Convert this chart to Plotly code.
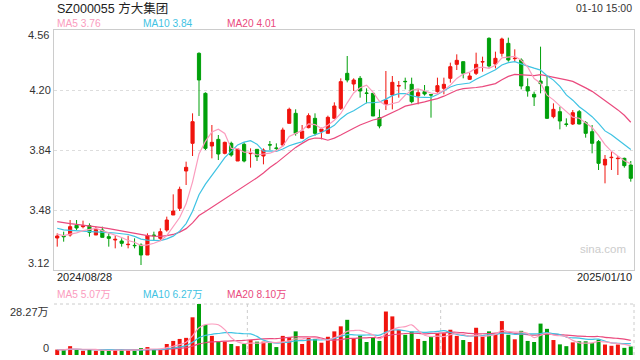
import plotly.graph_objects as go
import pandas as pd

# ---------------- data ----------------
title_text = "SZ000055 方大集团"
stamp_text = "01-10 15:00"
first_date = "2024/08/28"
last_date = "2025/01/10"

opens = [3.312, 3.325, 3.33, 3.388, 3.38, 3.386, 3.33, 3.36, 3.32, 3.30,
         3.294, 3.272, 3.268, 3.27, 3.21, 3.33, 3.31, 3.36, 3.45, 3.49,
         3.714, 3.88, 4.42, 4.18, 3.864, 3.904, 3.82, 3.88, 3.774, 3.874,
         3.818, 3.844, 3.804, 3.872, 3.852, 3.87, 4.0, 4.06, 3.91, 3.974,
         4.03, 3.95, 3.94, 4.03, 4.09, 4.30, 4.236, 4.27, 4.182, 4.18,
         4.034, 4.114, 4.17, 4.224, 4.252, 4.234, 4.164, 4.19, 4.172, 4.19,
         4.21, 4.27, 4.354, 4.37, 4.264, 4.30, 4.368, 4.51, 4.356, 4.42,
         4.48, 4.388, 4.38, 4.22, 4.174, 4.254, 4.22, 4.04, 4.07, 3.996,
         3.996, 4.07, 4.004, 3.95, 3.89, 3.75, 3.794, 3.788, 3.79, 3.75]
highs = [3.34, 3.35, 3.42, 3.42, 3.416, 3.40, 3.38, 3.38, 3.34, 3.326,
         3.31, 3.326, 3.31, 3.28, 3.34, 3.35, 3.37, 3.44, 3.574, 3.62,
         3.77, 4.06, 4.426, 4.186, 3.99, 3.93, 3.89, 3.89, 3.85, 3.886,
         3.85, 3.846, 3.85, 3.894, 3.88, 3.974, 4.094, 4.084, 3.99, 4.06,
         4.06, 3.974, 4.046, 4.126, 4.27, 4.404, 4.27, 4.284, 4.21, 4.18,
         4.084, 4.314, 4.284, 4.254, 4.274, 4.274, 4.204, 4.23, 4.174, 4.274,
         4.274, 4.364, 4.414, 4.37, 4.304, 4.424, 4.40, 4.516, 4.43, 4.514,
         4.514, 4.444, 4.39, 4.27, 4.19, 4.46, 4.284, 4.12, 4.10, 4.03,
         4.08, 4.08, 4.014, 3.99, 3.90, 3.81, 3.83, 3.804, 3.794, 3.774]
lows = [3.26, 3.29, 3.32, 3.36, 3.37, 3.32, 3.33, 3.316, 3.26, 3.25,
        3.26, 3.25, 3.25, 3.15, 3.21, 3.30, 3.30, 3.35, 3.45, 3.474,
        3.63, 3.804, 4.044, 3.84, 3.79, 3.78, 3.814, 3.80, 3.774, 3.766,
        3.734, 3.774, 3.754, 3.84, 3.834, 3.86, 4.0, 3.926, 3.91, 3.97,
        3.926, 3.904, 3.94, 4.03, 4.08, 4.246, 4.194, 4.154, 4.12, 4.044,
        3.97, 4.08, 4.084, 4.154, 4.204, 4.12, 4.114, 4.166, 4.034, 4.184,
        4.174, 4.244, 4.32, 4.27, 4.26, 4.29, 4.31, 4.334, 4.33, 4.40,
        4.37, 4.37, 4.204, 4.16, 4.104, 4.18, 4.026, 4.03, 3.964, 3.98,
        3.99, 3.994, 3.914, 3.82, 3.72, 3.64, 3.72, 3.69, 3.734, 3.65]
closes = [3.324, 3.32, 3.38, 3.372, 3.385, 3.346, 3.364, 3.316, 3.31, 3.304,
          3.28, 3.274, 3.266, 3.21, 3.326, 3.326, 3.35, 3.42, 3.474, 3.604,
          3.736, 4.01, 4.26, 3.85, 3.886, 3.816, 3.886, 3.81, 3.846, 3.774,
          3.82, 3.80, 3.84, 3.87, 3.85, 3.96, 4.084, 3.94, 3.954, 4.046,
          3.94, 3.966, 4.036, 4.104, 4.25, 4.26, 4.26, 4.194, 4.18, 4.044,
          3.984, 4.14, 4.246, 4.226, 4.25, 4.13, 4.184, 4.176, 4.17, 4.226,
          4.234, 4.34, 4.378, 4.30, 4.284, 4.354, 4.37, 4.344, 4.39, 4.506,
          4.38, 4.39, 4.224, 4.194, 4.158, 4.238, 4.03, 4.084, 4.014, 3.994,
          4.064, 3.996, 3.94, 3.88, 3.76, 3.784, 3.796, 3.79, 3.746, 3.67]
# volume in 万 (10k) shares
volumes = [3.0, 2.7, 4.9, 3.0, 2.3, 3.0, 2.3, 2.7, 2.7, 2.7,
           2.7, 2.7, 2.7, 3.8, 4.4, 3.0, 3.0, 6.1, 7.8, 8.9,
           9.5, 20.9, 28.27, 16.7, 10.6, 7.4, 7.4, 6.1, 4.9, 6.1,
           8.3, 7.4, 7.4, 6.6, 4.4, 10.6, 9.9, 13.1, 6.1, 9.5,
           8.9, 6.8, 10.1, 13.1, 15.9, 19.5, 9.1, 10.8, 7.2, 9.5,
           7.8, 24.1, 21.4, 13.9, 11.2, 13.1, 8.9, 7.8, 10.2, 12.1,
           12.1, 14.0, 10.6, 8.3, 7.2, 15.1, 10.2, 13.1, 11.4, 18.8,
           11.2, 8.7, 13.4, 7.8, 7.2, 17.4, 14.5, 8.3, 5.9, 4.9,
           7.0, 7.6, 7.6, 6.6, 8.55, 5.8, 5.1, 5.8, 3.95, 4.7]
# closes / volumes before the window, estimated so the MA lines start where the picture shows
prior_closes = [3.48, 3.47, 3.46, 3.47, 3.45, 3.44, 3.45, 3.43, 3.44, 3.42,
                3.42, 3.41, 3.40, 3.41, 3.39, 3.36, 3.34, 3.33, 3.32]
prior_volumes = [3.4, 3.2, 3.1, 3.3, 3.0, 3.2, 3.1, 2.9, 3.0, 3.1,
                 3.0, 2.9, 3.0, 3.1, 2.8, 2.9, 3.0, 2.8, 2.9]

price_ticks = [3.48, 3.84, 4.20]
price_min, price_max = 3.12, 4.56
vol_max = 28.27

# trading dates (China A-share calendar)
holidays = pd.to_datetime(["2024-09-16", "2024-09-17", "2024-10-01", "2024-10-02",
                           "2024-10-03", "2024-10-04", "2024-10-07", "2025-01-01"])
dates = [d for d in pd.bdate_range("2024-08-28", "2025-01-10") if d not in holidays]

# ---------------- styles ----------------
RED = "#f0140e"
GREEN = "#00a00a"
MA5C, MA10C, MA20C = "#fb9cbe", "#3fc3e3", "#ea4a7e"
FONT = "Liberation Sans, Arial, Noto Sans CJK SC, sans-serif"

n = len(closes)
xs = list(range(n))


def ma(values, prior, w):
    s = pd.Series(prior + values).rolling(w, min_periods=1).mean()
    return s.iloc[len(prior):].tolist()


ma5, ma10, ma20 = (ma(closes, prior_closes, w) for w in (5, 10, 20))
vma5, vma10, vma20 = (ma(volumes, prior_volumes, w) for w in (5, 10, 20))

fig = go.Figure()
fig.add_trace(go.Candlestick(
    x=xs, open=opens, high=highs, low=lows, close=closes,
    increasing=dict(line=dict(color=RED, width=1), fillcolor=RED),
    decreasing=dict(line=dict(color=GREEN, width=1), fillcolor=GREEN),
    whiskerwidth=0, xaxis="x", yaxis="y", showlegend=False, hoverinfo="skip"))
for vals, col in ((ma20, MA20C), (ma10, MA10C), (ma5, MA5C)):
    fig.add_trace(go.Scatter(x=xs, y=vals, mode="lines", line=dict(color=col, width=1.2),
                             xaxis="x", yaxis="y", showlegend=False, hoverinfo="skip"))

bar_colors = [RED if c >= o else GREEN for o, c in zip(opens, closes)]
fig.add_trace(go.Bar(x=xs, y=volumes, marker=dict(color=bar_colors, line=dict(width=0)),
                     xaxis="x2", yaxis="y2", showlegend=False, hoverinfo="skip"))
for vals, col in ((vma20, MA20C), (vma10, MA10C), (vma5, MA5C)):
    fig.add_trace(go.Scatter(x=xs, y=vals, mode="lines", line=dict(color=col, width=1.2),
                             line_shape="spline",
                             xaxis="x2", yaxis="y2", showlegend=False, hoverinfo="skip"))

W, H, L, R = 640, 360, 54, 6
PW = W - L - R


def px(xp):
    return (xp - L) / PW


def py(yp):
    return 1 - yp / H


ann = []


def text(t, xp, yp, size, color, anchor="left", va="middle"):
    ann.append(dict(text=t, x=px(xp), y=py(yp), xref="paper", yref="paper",
                    xanchor=anchor, yanchor=va, showarrow=False,
                    font=dict(size=size, color=color, family=FONT)))


text(title_text, 55, 8, 12.5, "#222222")
text(stamp_text, 634, 8, 10.5, "#333333", "right")
text(f"MA5 {ma5[-1]:.2f}", 55, 24, 10.2, MA5C)
text(f"MA10 {ma10[-1]:.2f}", 141, 24, 10.2, MA10C)
text(f"MA20 {ma20[-1]:.2f}", 225, 24, 10.2, MA20C)
text(f"{price_max:.2f}", 51, 35, 11, "#333333", "right")
text(f"{price_min:.2f}", 51, 263, 11, "#333333", "right")
text(first_date, 55, 277, 11, "#222222")
text(last_date, 634, 277, 11, "#222222", "right")
text(f"MA5 {vma5[-1]:.2f}万", 55, 294, 10.2, MA5C)
text(f"MA10 {vma10[-1]:.2f}万", 141, 294, 10.2, MA10C)
text(f"MA20 {vma20[-1]:.2f}万", 225, 294, 10.2, MA20C)
text(f"{vol_max:.2f}万", 51, 312, 11, "#333333", "right")
text("0", 51, 348, 11, "#333333", "right")
text("sina.com", 603, 249, 11.5, "#cccccc", "center")

dot = dict(color="#cccccc", width=1, dash="dot")
shapes = [
    dict(type="line", xref="paper", yref="y2 domain", x0=0, x1=1, y0=1, y1=1, line=dot, layer="below"),
    dict(type="line", xref="paper", yref="y2 domain", x0=1 / 3, x1=1 / 3, y0=0, y1=1, line=dot, layer="below"),
    dict(type="line", xref="paper", yref="y2 domain", x0=2 / 3, x1=2 / 3, y0=0, y1=1, line=dot, layer="below"),
    dict(type="line", xref="paper", yref="y2 domain", x0=1, x1=1, y0=0, y1=1, line=dot, layer="below"),
]

fig.update_layout(
    width=W, height=H, margin=dict(l=L, r=R, t=0, b=0),
    paper_bgcolor="white", plot_bgcolor="white",
    bargap=0.38, showlegend=False,
    font=dict(family=FONT, size=11, color="#333333"),
    xaxis=dict(domain=[0, 1], range=[-0.5, n - 0.5], anchor="y", showticklabels=False,
               showgrid=False, zeroline=False, showline=True, mirror=True,
               linecolor="#cccccc", linewidth=1, rangeslider=dict(visible=False), fixedrange=True),
    yaxis=dict(domain=[py(270), py(30)], range=[price_min, price_max], anchor="x",
               tickmode="array", tickvals=price_ticks, ticktext=[f"{v:.2f}" for v in price_ticks],
               showgrid=True, gridcolor="#dddddd", griddash="dot", gridwidth=1,
               zeroline=False, showline=True, mirror=True, linecolor="#cccccc", linewidth=1,
               ticks="", tickfont=dict(size=11, color="#333333")),
    xaxis2=dict(domain=[0, 1], range=[-0.5, n - 0.5], anchor="y2", matches="x",
                showticklabels=False, showgrid=False, zeroline=False, showline=False),
    yaxis2=dict(domain=[py(355), py(304)], range=[0, vol_max], anchor="x2",
                showticklabels=False, showgrid=False, zeroline=False, showline=False),
    annotations=ann, shapes=shapes,
)

fig.write_html(
    "out.html",
    config={"displayModeBar": False},
    post_script="document.body.style.margin='0';document.body.style.overflow='hidden';",
)
